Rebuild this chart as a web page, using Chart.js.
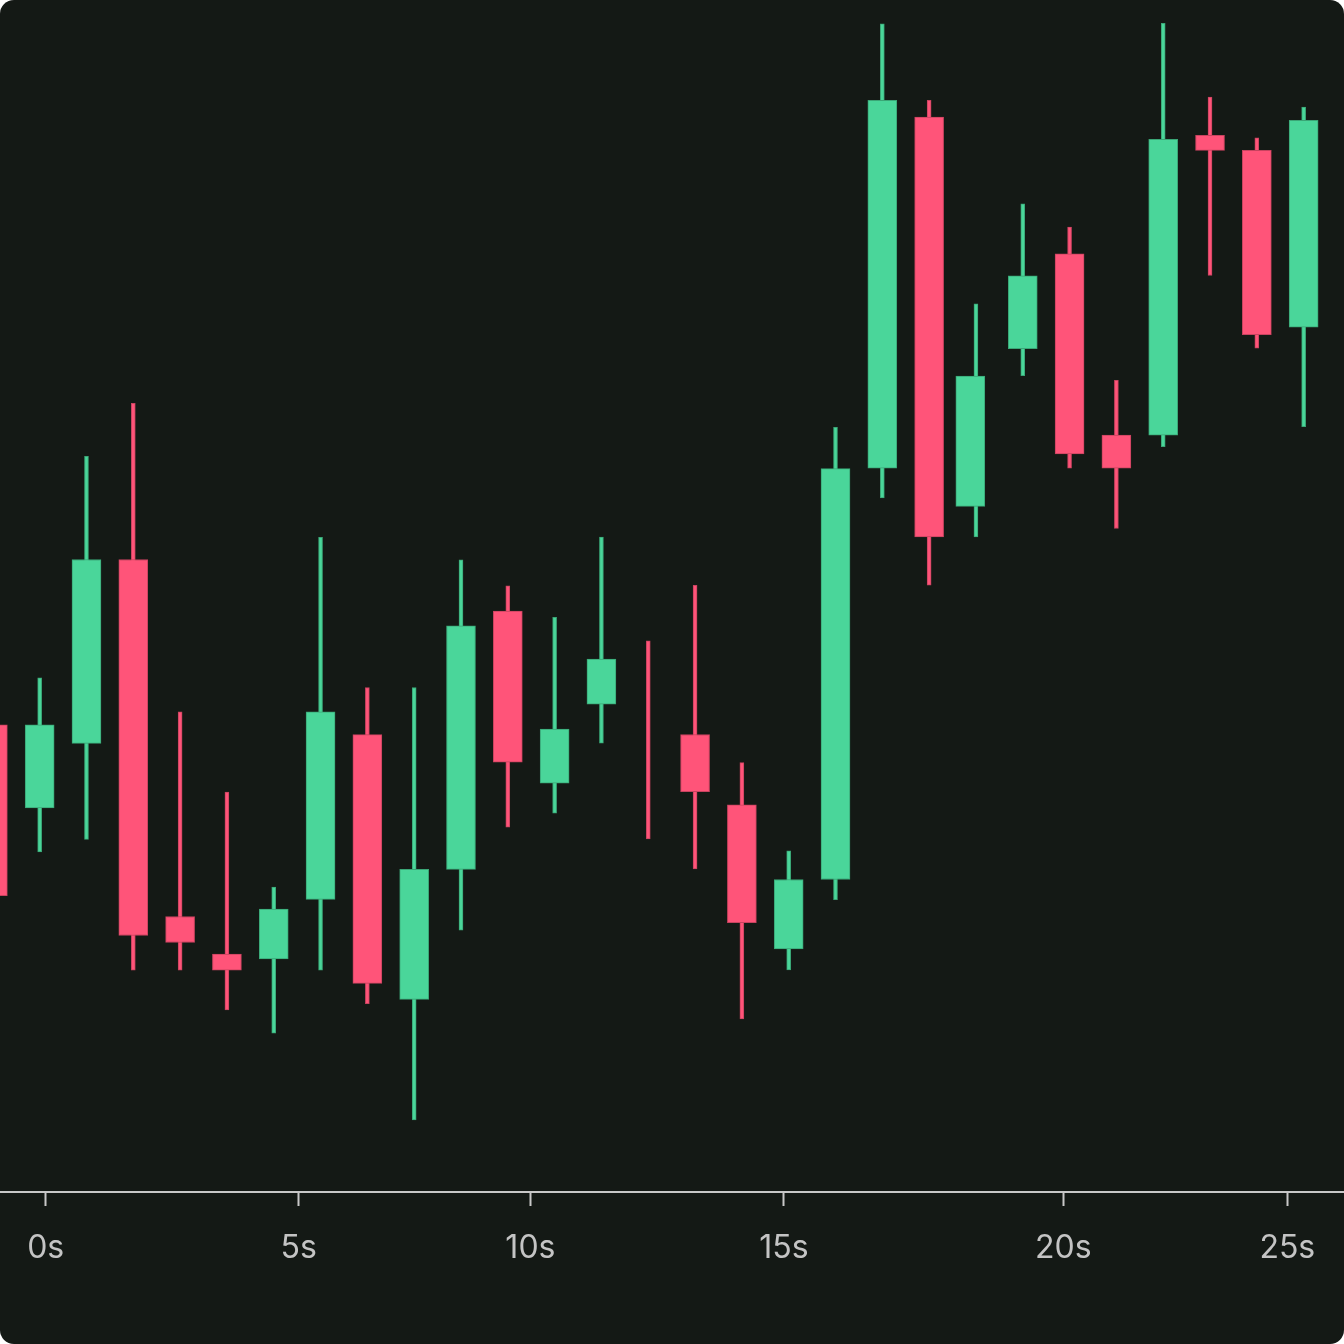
<!DOCTYPE html>
<html><head><meta charset="utf-8">
<script src="https://cdn.jsdelivr.net/npm/chart.js@4.4.1/dist/chart.umd.min.js"></script>
<style>
html,body{margin:0;padding:0;background:#ffffff;}
#wrap{width:1344px;height:1344px;border-radius:14px;overflow:hidden;background:#141915;}
canvas{display:block;}
</style></head><body>
<div id="wrap"><canvas id="c" width="1344" height="1344"></canvas></div>
<script>
// candle index (one candle per step); body index equals it except one slightly shifted body
const candleIndex = [0,1,2,3,4,5,6,7,8,9,10,11,12,13,14,15,16,17,18,19,20,21,22,23,24,25,26,27,28];
const bodyIndex   = [0,1,2,3,4,5,6,7,8,9,10,11,12,13,14,15,16,17,18,19,20,20.88,22,23,24,25,26,27,28];
const openValues  = [147.57,139.27,145.73,164.10,128.43,124.67,124.20,130.13,146.60,120.15,133.14,158.94,141.74,149.64,146.10,146.61,139.59,125.18,132.12,173.23,208.29,169.41,185.17,194.63,176.53,176.53,206.47,204.97,187.30];
const highValues  = [151.20,152.27,174.40,179.70,148.87,140.87,131.37,166.30,151.31,151.31,164.07,161.46,158.31,166.33,155.98,161.51,143.80,134.98,177.31,217.63,209.97,189.65,199.64,197.31,182.00,217.67,210.30,206.23,209.30];
const lowValues   = [128.60,134.87,136.13,123.07,123.07,119.10,116.77,123.07,119.72,108.10,127.07,137.34,138.74,145.75,136.17,133.18,118.20,123.10,130.12,170.25,161.52,166.35,182.46,173.23,167.19,175.37,192.47,185.20,177.37];
const closeValues = [130.50,147.57,164.10,126.53,125.83,123.07,129.17,148.87,121.74,133.14,157.46,143.84,147.15,154.15,146.10,140.90,127.80,132.12,173.18,209.97,166.35,182.42,192.45,174.65,173.23,206.07,204.97,186.57,207.97];
// x-axis ticks (positions in candle-index units) and their labels
const tickPositions = [1.129, 6.535, 11.483, 16.897, 22.866, 27.651];
const tickLabels = ['0s','5s','10s','15s','20s','25s'];

const up = candleIndex.map((_, i) => closeValues[i] > openValues[i]);
const fillColors = up.map(u => u ? '#4AD69A' : '#FF5479');
const edgeColors = up.map(u => u ? '#3AA676' : '#C8435F');

new Chart(document.getElementById('c').getContext('2d'), {
  type: 'bar',
  data: {
    datasets: [
      {
        label: 'wick',
        data: candleIndex.map((x, i) => ({x: x, y: [lowValues[i], highValues[i]]})),
        backgroundColor: fillColors, borderColor: edgeColors, borderWidth: 1,
        borderSkipped: false, barThickness: 4, grouped: false, order: 2
      },
      {
        label: 'body',
        data: bodyIndex.map((x, i) => ({x: x, y: [openValues[i], closeValues[i]]})),
        backgroundColor: fillColors, borderColor: edgeColors, borderWidth: 1,
        borderSkipped: false, barThickness: 29, grouped: false, order: 1
      }
    ]
  },
  options: {
    responsive: false, animation: false, devicePixelRatio: 1,
    layout: {padding: {top: 0, left: 0, right: 0, bottom: 53.6}},
    plugins: {legend: {display: false}, tooltip: {enabled: false}},
    scales: {
      x: {
        type: 'linear', min: 0.1527, max: 28.862, offset: false,
        afterBuildTicks: s => { s.ticks = tickPositions.map(v => ({value: v})); },
        grid: {display: true, offset: false, drawOnChartArea: false, drawTicks: true, tickLength: 14, tickWidth: 2, tickColor: '#c8c8c8'},
        border: {display: true, color: '#c8c8c8', width: 2},
        ticks: {autoSkip: false, maxRotation: 0, padding: 23, color: '#c4c4c4',
                font: {family: 'Inter', size: 32}, callback: (v, i) => tickLabels[i]}
      },
      y: {display: false, min: 100.9, max: 220}
    }
  }
});
</script>
</body></html>
